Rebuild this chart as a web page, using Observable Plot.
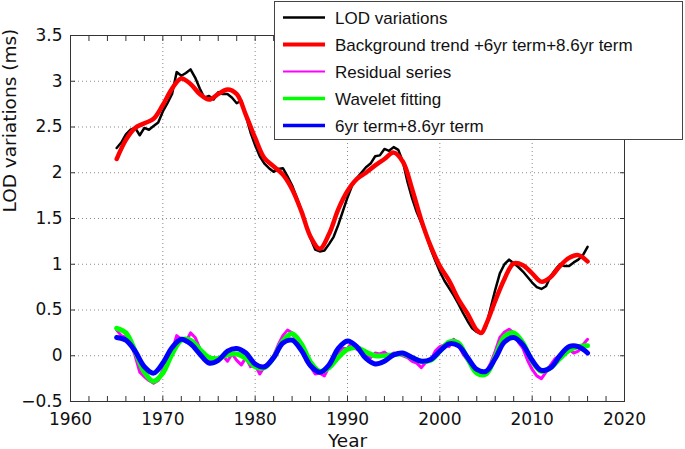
<!DOCTYPE html>
<html><head><meta charset="utf-8">
<script src="https://cdn.jsdelivr.net/npm/d3@7"></script>
<script src="https://cdn.jsdelivr.net/npm/@observablehq/plot@0.6"></script>
<style>body{margin:0;background:#fff;} #chart{width:685px;height:449px;}</style>
</head><body><div id="chart"></div>
<script>
// ---- tick labels ----
const xTicks = [1960, 1970, 1980, 1990, 2000, 2010, 2020];
const xMinorTicks = [1960,1962,1964,1966,1968,1970,1972,1974,1976,1978,1980,1982,1984,1986,1988,1990,1992,1994,1996,1998,2000,2002,2004,2006,2008,2010,2012,2014,2016,2018,2020];
const yTicks = [-0.5, 0, 0.5, 1, 1.5, 2, 2.5, 3, 3.5];
const legendLabels = ["LOD variations", "Background trend +6yr term+8.6yr term", "Residual series", "Wavelet fitting", "6yr term+8.6yr term"];

// ---- half-year sampled series (1965.0 .. 2016.0) ----
const halfYears = [1965,1965.5,1966,1966.5,1967,1967.5,1968,1968.5,1969,1969.5,1970,1970.5,1971,1971.5,1972,1972.5,1973,1973.5,1974,1974.5,1975,1975.5,1976,1976.5,1977,1977.5,1978,1978.5,1979,1979.5,1980,1980.5,1981,1981.5,1982,1982.5,1983,1983.5,1984,1984.5,1985,1985.5,1986,1986.5,1987,1987.5,1988,1988.5,1989,1989.5,1990,1990.5,1991,1991.5,1992,1992.5,1993,1993.5,1994,1994.5,1995,1995.5,1996,1996.5,1997,1997.5,1998,1998.5,1999,1999.5,2000,2000.5,2001,2001.5,2002,2002.5,2003,2003.5,2004,2004.5,2005,2005.5,2006,2006.5,2007,2007.5,2008,2008.5,2009,2009.5,2010,2010.5,2011,2011.5,2012,2012.5,2013,2013.5,2014,2014.5,2015,2015.5,2016];
const lodValues = [2.27,2.33,2.42,2.47,2.49,2.41,2.49,2.47,2.51,2.55,2.67,2.76,2.86,3.10,3.06,3.09,3.13,3.04,2.92,2.82,2.84,2.80,2.88,2.86,2.86,2.82,2.76,2.79,2.62,2.44,2.30,2.18,2.10,2.05,2.01,2.04,2.05,1.96,1.86,1.73,1.59,1.43,1.28,1.16,1.14,1.15,1.22,1.30,1.43,1.58,1.73,1.86,1.94,2.00,2.06,2.10,2.18,2.19,2.26,2.24,2.28,2.25,2.12,1.90,1.72,1.57,1.45,1.32,1.17,1.04,0.92,0.82,0.74,0.66,0.57,0.47,0.38,0.30,0.26,0.24,0.32,0.52,0.72,0.90,1.00,1.05,1.01,0.97,0.92,0.86,0.80,0.75,0.73,0.76,0.87,0.94,1.00,0.98,0.98,1.02,1.05,1.10,1.19];
const residualValues = [0.28,0.22,0.20,0.15,0.00,-0.18,-0.23,-0.27,-0.30,-0.27,-0.15,-0.05,0.05,0.22,0.18,0.15,0.25,0.20,0.08,0.00,-0.05,-0.02,-0.05,0.00,-0.06,0.02,-0.05,-0.10,-0.02,-0.12,-0.10,-0.20,-0.12,-0.08,0.00,0.12,0.22,0.28,0.25,0.15,0.08,-0.05,-0.12,-0.20,-0.19,-0.22,-0.12,-0.05,0.02,0.08,0.08,0.15,0.07,0.05,0.00,-0.02,0.03,0.02,0.04,0.00,0.03,0.02,0.00,-0.02,-0.06,-0.08,-0.13,-0.07,-0.05,0.05,0.10,0.12,0.10,0.18,0.12,0.02,-0.05,-0.12,-0.15,-0.20,-0.18,-0.08,0.05,0.20,0.26,0.29,0.25,0.15,0.08,-0.05,-0.15,-0.22,-0.25,-0.18,-0.10,-0.03,0.00,0.05,0.07,0.03,0.05,0.12,0.18];

// ---- smooth series ----
const trendYears = [1965,1966,1967,1968,1969,1970,1971,1972,1973,1974,1975,1976,1977,1978,1979,1980,1981,1982,1983,1984,1985,1986,1987,1988,1989,1990,1991,1992,1993,1994,1995,1996,1997,1998,1999,2000,2001,2002,2003,2004,2004.5,2005,2006,2007,2008,2009,2010,2011,2012,2013,2014,2015,2016];
const trendValues = [2.15,2.36,2.49,2.54,2.59,2.74,2.92,3.03,2.97,2.86,2.80,2.86,2.91,2.86,2.63,2.38,2.16,2.07,1.98,1.82,1.58,1.30,1.17,1.33,1.60,1.80,1.93,2.00,2.08,2.15,2.22,2.12,1.82,1.48,1.20,0.98,0.82,0.62,0.46,0.28,0.25,0.34,0.60,0.84,1.01,0.99,0.90,0.81,0.86,0.98,1.07,1.10,1.03];
const fitYears = [1965,1966,1967,1968,1969,1970,1971,1972,1973,1974,1975,1976,1977,1978,1979,1980,1981,1982,1983,1984,1985,1986,1987,1988,1989,1990,1991,1992,1993,1994,1995,1996,1997,1998,1999,2000,2001,2002,2003,2004,2005,2006,2007,2008,2009,2010,2011,2012,2013,2014,2015,2016];
const waveletValues = [0.30,0.25,0.05,-0.18,-0.28,-0.19,0.02,0.17,0.17,0.07,-0.02,-0.03,0.01,0.02,-0.03,-0.12,-0.13,-0.02,0.16,0.24,0.13,-0.07,-0.17,-0.13,-0.02,0.07,0.09,0.04,0.00,0.00,0.01,0.02,-0.02,-0.06,-0.05,0.05,0.15,0.14,-0.03,-0.19,-0.20,-0.01,0.21,0.25,0.14,-0.06,-0.17,-0.13,-0.03,0.06,0.10,0.11];
const termValues = [0.20,0.17,0.05,-0.12,-0.19,-0.08,0.09,0.18,0.13,0.02,-0.08,-0.05,0.05,0.08,0.03,-0.09,-0.12,-0.02,0.14,0.17,0.06,-0.11,-0.18,-0.10,0.08,0.16,0.10,-0.03,-0.09,-0.06,0.01,0.03,-0.02,-0.06,-0.04,0.05,0.13,0.11,-0.02,-0.15,-0.17,-0.03,0.15,0.20,0.12,-0.05,-0.16,-0.13,0.00,0.10,0.10,0.03];

const pairs = (xs, ys) => xs.map((x, i) => ({x, y: ys[i]}));
const fmt = d => d < 0 ? "\u2212" + Math.abs(d) : String(d);
const gridStyle = {stroke: "#8a8a8a", strokeOpacity: 1, strokeWidth: 1, strokeDasharray: "1,3"};
const axisFont = "'DejaVu Sans', Verdana, sans-serif";

const plot = Plot.plot({
  width: 685, height: 449,
  marginLeft: 70, marginRight: 61, marginTop: 35, marginBottom: 48,
  x: {domain: [1960, 2020]},
  y: {domain: [-0.5, 3.5]},
  style: {fontFamily: axisFont, fontSize: "17px", background: "white", color: "#111"},
  marks: [
    Plot.gridX(xTicks, gridStyle),
    Plot.gridY(yTicks, gridStyle),
    Plot.lineY(pairs(halfYears, lodValues), {x: "x", y: "y", stroke: "#000", strokeWidth: 2.5}),
    Plot.lineY(pairs(trendYears, trendValues), {x: "x", y: "y", stroke: "#ff0000", strokeWidth: 4.5, curve: "catmull-rom"}),
    Plot.lineY(pairs(halfYears, residualValues), {x: "x", y: "y", stroke: "#ff00ff", strokeWidth: 3}),
    Plot.lineY(pairs(fitYears, waveletValues), {x: "x", y: "y", stroke: "#00ff00", strokeWidth: 5, curve: "catmull-rom"}),
    Plot.lineY(pairs(fitYears, termValues), {x: "x", y: "y", stroke: "#0000ff", strokeWidth: 5, curve: "catmull-rom"}),
    Plot.frame({stroke: "#333", strokeWidth: 1}),
    Plot.axisX(xMinorTicks, {anchor: "bottom", tickSize: -5, tickFormat: () => "", label: null, stroke: "#333"}),
    Plot.axisX(xMinorTicks, {anchor: "top", tickSize: -5, tickFormat: () => "", label: null, stroke: "#333"}),
    Plot.axisY(yTicks, {anchor: "right", tickSize: -5, tickFormat: () => "", label: null, stroke: "#333"}),
    Plot.axisY(yTicks, {anchor: "left", tickSize: -5, tickFormat: () => "", label: null, stroke: "#333"}),
    Plot.axisX(xTicks, {anchor: "bottom", tickSize: 0, tickPadding: 11, tickFormat: fmt, label: null}),
    Plot.axisY(yTicks, {anchor: "left", tickSize: 0, tickPadding: 8, tickFormat: fmt, label: null}),
    Plot.text(["Year"], {frameAnchor: "bottom", lineAnchor: "bottom", dy: 45, fontSize: 18.5}),
    Plot.text(["LOD variations (ms)"], {frameAnchor: "left", lineAnchor: "middle", dx: -60, dy: -6, rotate: -90, fontSize: 18.5})
  ]
});
document.getElementById("chart").appendChild(plot);

// ---- legend box (MATLAB style, top right) ----
const legendStyles = [
  {color: "#000000", w: 2.7},
  {color: "#ff0000", w: 4.2},
  {color: "#ff00ff", w: 2.2},
  {color: "#00ff00", w: 3.7},
  {color: "#0000ff", w: 3.7}
];
const svg = d3.select(plot);
const lg = svg.append("g").attr("text-anchor", "start");
lg.append("rect").attr("x", 274.5).attr("y", 1.5).attr("width", 408).attr("height", 138)
  .attr("fill", "white").attr("stroke", "#444").attr("stroke-width", 1);
legendLabels.forEach((t, i) => {
  const cy = 17.5 + i * 27;
  lg.append("line").attr("x1", 283).attr("x2", 325).attr("y1", cy).attr("y2", cy)
    .attr("stroke", legendStyles[i].color).attr("stroke-width", legendStyles[i].w);
  lg.append("text").attr("x", 335).attr("y", cy + 6.3).text(t)
    .attr("text-anchor", "start")
    .attr("font-family", "'Liberation Sans', Arial, sans-serif").attr("font-size", 17).attr("fill", "#111");
});
</script></body></html>
